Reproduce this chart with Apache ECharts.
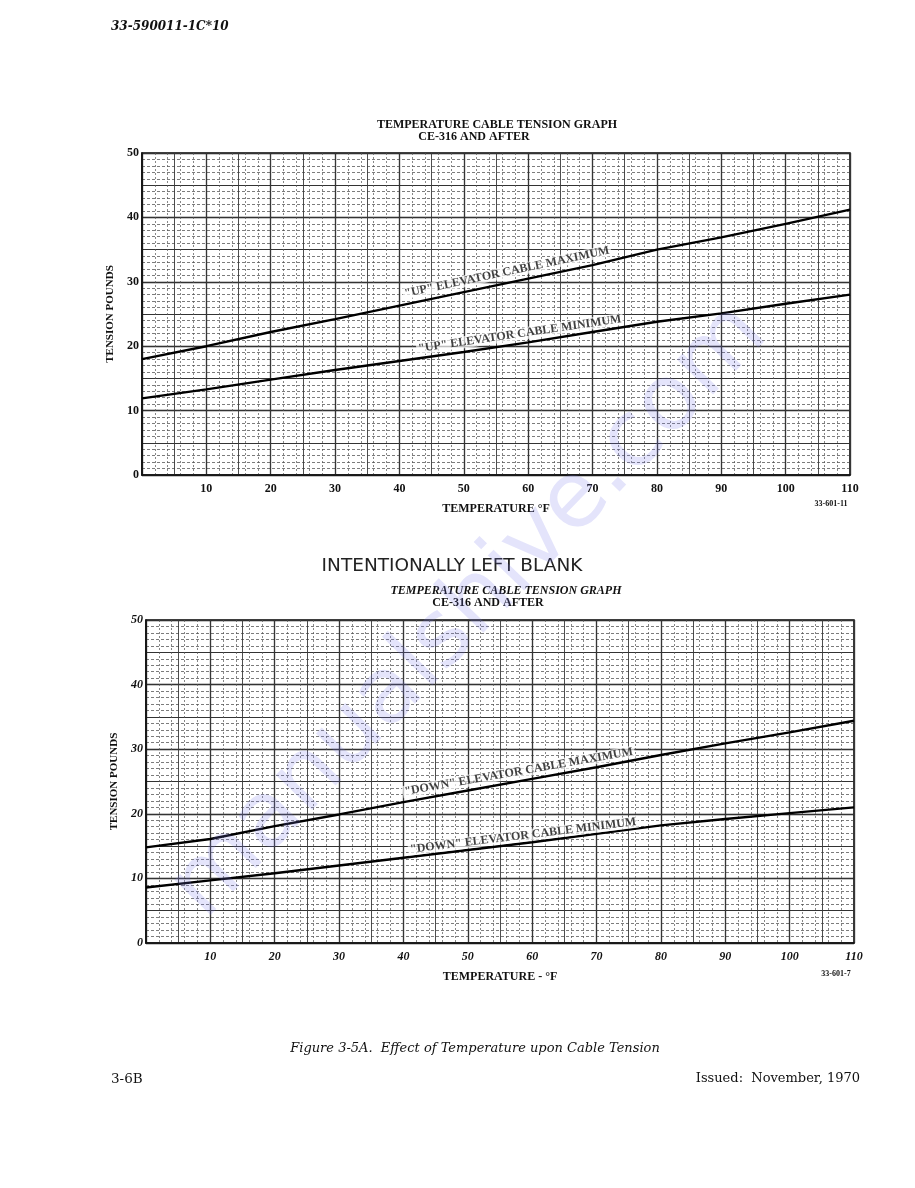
<!DOCTYPE html>
<html><head><meta charset="utf-8">
<script src="https://cdn.jsdelivr.net/npm/echarts@6/dist/echarts.min.js"></script>
<style>html,body{margin:0;padding:0;background:#fff}#c{width:915px;height:1188px}</style>
</head><body><div id="c"></div>
<script>
// ---- data ----
const temps = [0, 10, 20, 30, 40, 50, 60, 70, 80, 90, 100, 110];
const upMax = [18.0, 20.0, 22.2, 24.2, 26.3, 28.4, 30.5, 32.6, 35.0, 36.9, 39.0, 41.2];
const upMin = [11.9, 13.3, 14.8, 16.3, 17.7, 19.1, 20.6, 22.2, 23.8, 25.1, 26.6, 28.0];
const downMax = [14.8, 16.1, 18.1, 19.9, 21.8, 23.6, 25.4, 27.2, 29.1, 30.9, 32.6, 34.4];
const downMin = [8.6, 9.7, 10.8, 12.0, 13.2, 14.4, 15.6, 16.9, 18.2, 19.2, 20.1, 21.0];
const xTickLabels = ['10','20','30','40','50','60','70','80','90','100','110'];
const yTickLabels = ['0','10','20','30','40','50'];

const chart = echarts.init(document.getElementById('c'));
const SERIF = '"Liberation Serif","DejaVu Serif",serif';
const DSERIF = '"DejaVu Serif",serif';
const pair = (ys) => temps.map((t, i) => [t, ys[i]]);

const grids = [
  {left: 142, top: 153, width: 708, height: 322},
  {left: 146, top: 620, width: 708, height: 323}
];

function axesFor(g, italic) {
  const xs = [], ys = [];
  xs.push({
    type: 'value', gridIndex: g, min: 0, max: 110, interval: 10,
    name: g === 0 ? 'TEMPERATURE °F' : 'TEMPERATURE - °F',
    nameLocation: 'middle', nameGap: 28,
    nameTextStyle: {fontFamily: SERIF, fontWeight: 'bold', fontSize: 12, color: '#111'},
    axisLine: {show: true, onZero: false, lineStyle: {color: '#111', width: 1.6}},
    axisTick: {show: false},
    axisLabel: {
      margin: 8, fontFamily: SERIF, fontWeight: 'bold', fontStyle: italic ? 'italic' : 'normal',
      fontSize: 12, color: '#111',
      formatter: v => { const s = String(v); return xTickLabels.indexOf(s) >= 0 ? s : ''; }
    },
    splitLine: {show: true, lineStyle: {color: '#1a1a1a', width: 1.3}},
    minorTick: {show: false, splitNumber: 5},
    minorSplitLine: {show: true, lineStyle: {color: '#555', width: 0.7, type: [2, 2]}}
  });
  xs.push({
    type: 'value', gridIndex: g, min: 0, max: 110, interval: 5,
    axisLine: {show: false}, axisTick: {show: false}, axisLabel: {show: false},
    splitLine: {show: true, lineStyle: {color: '#3a3a3a', width: 0.9}}
  });
  ys.push({
    type: 'value', gridIndex: g, min: 0, max: 50, interval: 10,
    name: 'TENSION POUNDS', nameLocation: 'middle', nameGap: 23,
    nameTextStyle: {fontFamily: SERIF, fontWeight: 'bold', fontSize: 11, color: '#111'},
    axisLine: {show: true, onZero: false, lineStyle: {color: '#111', width: 1.6}},
    axisTick: {show: false},
    axisLabel: {
      margin: 3, fontFamily: SERIF, fontWeight: 'bold', fontStyle: italic ? 'italic' : 'normal',
      fontSize: 12, color: '#111',
      formatter: v => { const s = String(v); return yTickLabels.indexOf(s) >= 0 ? s : ''; }
    },
    splitLine: {show: true, lineStyle: {color: '#1a1a1a', width: 1.3}},
    minorTick: {show: false, splitNumber: 10},
    minorSplitLine: {show: true, lineStyle: {color: '#444', width: 0.7, type: [3, 2]}}
  });
  ys.push({
    type: 'value', gridIndex: g, min: 0, max: 50, interval: 5,
    axisLine: {show: false}, axisTick: {show: false}, axisLabel: {show: false},
    splitLine: {show: true, lineStyle: {color: '#333', width: 1.0}}
  });
  return {xs, ys};
}
const a0 = axesFor(0, false), a1 = axesFor(1, true);

function curve(data, xi, yi) {
  return {type: 'line', xAxisIndex: xi, yAxisIndex: yi, data: data, symbol: 'none',
    lineStyle: {color: '#000', width: 2.4}, silent: true, z: 5, animation: false};
}
function tag(text, x, y, rot, xi, yi) {
  return {type: 'scatter', xAxisIndex: xi, yAxisIndex: yi, symbolSize: 0, data: [[x, y]],
    silent: true, z: 6, animation: false,
    label: {show: true, position: 'inside', rotate: rot, formatter: text,
      fontFamily: SERIF, fontWeight: 'bold', fontSize: 12, color: '#111',
      backgroundColor: 'rgba(255,255,255,0.85)', padding: [0, 2]}};
}

const txt = (x, y, s, o) => ({type: 'text', x: x, y: y, z: 10,
  style: Object.assign({text: s, fill: '#111', font: 'bold 11px ' + SERIF, textAlign: 'center', textVerticalAlign: 'middle'}, o || {})});

chart.setOption({
  animation: false,
  backgroundColor: '#fff',
  grid: grids.map(g => Object.assign({show: true, borderColor: '#111', borderWidth: 1.6, backgroundColor: 'transparent'}, g)),
  xAxis: a0.xs.concat(a1.xs),
  yAxis: a0.ys.concat(a1.ys),
  series: [
    curve(pair(upMax), 0, 0),
    curve(pair(upMin), 0, 0),
    curve(pair(downMax), 2, 2),
    curve(pair(downMin), 2, 2),
    tag('"UP" ELEVATOR CABLE MAXIMUM', 56.7, 31.5, 12, 0, 0),
    tag('"UP" ELEVATOR CABLE MINIMUM', 58.7, 21.9, 8.4, 0, 0),
    tag('"DOWN" ELEVATOR CABLE MAXIMUM', 57.9, 26.5, 10, 2, 2),
    tag('"DOWN" ELEVATOR CABLE MINIMUM', 58.6, 16.6, 7, 2, 2)
  ],
  graphic: [
    txt(111, 27, '33-590011-1C*10', {textAlign: 'left', font: 'italic bold 12px ' + DSERIF}),
    txt(497, 125, 'TEMPERATURE CABLE TENSION GRAPH', {font: 'bold 12px ' + SERIF}),
    txt(474, 137, 'CE-316 AND AFTER', {font: 'bold 12px ' + SERIF}),
    txt(831, 504, '33-601-11', {font: 'bold 8px ' + SERIF}),
    txt(452, 566, 'INTENTIONALLY LEFT BLANK', {font: '18.5px "DejaVu Sans",sans-serif', fill: '#222'}),
    txt(506, 591, 'TEMPERATURE CABLE TENSION GRAPH', {font: 'italic bold 12px ' + SERIF}),
    txt(488, 603, 'CE-316 AND AFTER', {font: 'bold 12px ' + SERIF}),
    txt(836, 974, '33-601-7', {font: 'bold 8px ' + SERIF}),
    txt(475, 1049, 'Figure 3-5A.  Effect of Temperature upon Cable Tension', {font: 'italic 13px ' + DSERIF}),
    txt(111, 1079, '3-6B', {textAlign: 'left', font: '13.5px ' + DSERIF}),
    txt(860, 1079, 'Issued:  November, 1970', {textAlign: 'right', font: '13px ' + DSERIF}),
    {type: 'text', x: 470, y: 612, rotation: 46 * Math.PI / 180, z: 20, silent: true,
      style: {text: 'manualshive.com', font: '92px "DejaVu Sans",sans-serif', fill: 'rgba(120,120,235,0.2)',
        textAlign: 'center', textVerticalAlign: 'middle'}}
  ]
});
</script></body></html>
